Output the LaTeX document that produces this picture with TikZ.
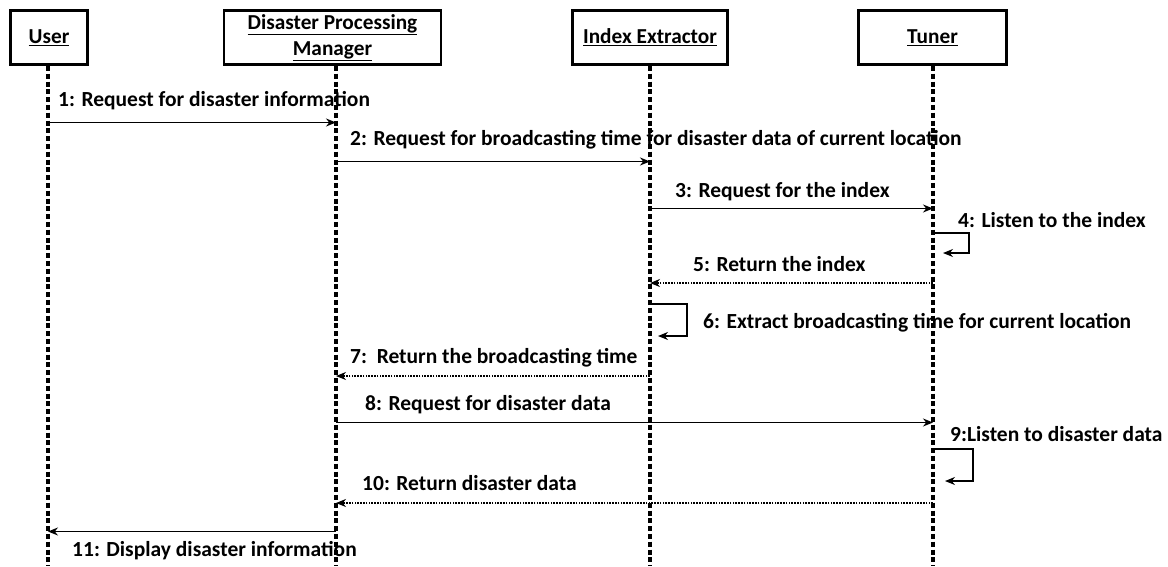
\documentclass[tikz,border=0pt]{standalone}
\usepackage{fontspec}
\setmainfont{Carlito}
\usetikzlibrary{arrows.meta}
\tikzset{
  obj/.style={draw=black, line width=2.8pt, minimum height=54pt, inner sep=0pt, align=center, font=\fontsize{21.3}{26}\selectfont\bfseries},
  life/.style={line width=3.2pt, dash pattern=on 5pt off 2.8pt},
  call/.style={line width=1.3pt, -{Stealth[length=10pt,width=8pt]}},
  ret/.style={line width=1.1pt, dash pattern=on 1.6pt off 1.2pt, -{Stealth[length=10pt,width=8pt]}},
  selfc/.style={line width=1.3pt, -{Stealth[length=10pt,width=8pt]}},
  lbl/.style={anchor=base west, inner sep=0pt, font=\fontsize{21.5}{25}\selectfont\bfseries}
}
\begin{document}
\begin{tikzpicture}[x=1pt,y=1pt]
\useasboundingbox (0,0) rectangle (1168,-566);
% objects
\node[obj, minimum width=77pt] (U) at (49,-37.5) {\underline{User}};
\node[obj, minimum width=217pt] (D) at (332.5,-37.5) {\underline{Disaster Processing}\\\underline{Manager}};
\node[obj, minimum width=155pt] (I) at (650,-37.5) {\underline{Index Extractor}};
\node[obj, minimum width=148pt] (T) at (932.5,-37.5) {\underline{Tuner}};
% lifeline bottoms
\coordinate (Ub) at (48,-566);
\coordinate (Db) at (336,-566);
\coordinate (Ib) at (650,-566);
\coordinate (Tb) at (933,-566);
\draw[life] (Ub |- U.south) -- (Ub);
\draw[life] (Db |- D.south) -- (Db);
\draw[life] (Ib |- I.south) -- (Ib);
\draw[life] (Tb |- T.south) -- (Tb);
% message rows
\coordinate (r1) at (0,-122.5);
\coordinate (r2) at (0,-161.5);
\coordinate (r3) at (0,-208.5);
\coordinate (r4a) at (0,-233);
\coordinate (r4b) at (0,-253);
\coordinate (r5) at (0,-283);
\coordinate (r6a) at (0,-304);
\coordinate (r6b) at (0,-336);
\coordinate (r7) at (0,-376);
\coordinate (r8) at (0,-422.5);
\coordinate (r9a) at (0,-449);
\coordinate (r9b) at (0,-481);
\coordinate (r10) at (0,-503);
\coordinate (r11) at (0,-531.5);
% messages
\draw[call] (Ub |- r1) -- (Db |- r1);
\node[lbl] (t1) at (58,-106) {1: Request for disaster information};
\draw[call] (Db |- r2) -- (Ib |- r2);
\node[lbl] (t2) at (350,-145) {2: Request for broadcasting time for disaster data of current location};
\draw[call] (Ib |- r3) -- (Tb |- r3);
\node[lbl] (t3) at (675,-197) {3: Request for the index};
\draw[selfc] (Tb |- r4a) -- ++(36,0) |- ([xshift=10pt]Tb |- r4b);
\node[lbl] (t4) at (958,-227) {4: Listen to the index};
\draw[ret] (Tb |- r5) -- (Ib |- r5);
\node[lbl] (t5) at (693,-271) {5: Return the index};
\draw[selfc] (Ib |- r6a) -- ++(37,0) |- ([xshift=8pt]Ib |- r6b);
\node[lbl] (t6) at (703,-328) {6: Extract broadcasting time for current location};
\draw[ret] (Ib |- r7) -- (Db |- r7);
\node[lbl] (t7) at (350,-363) {7:\ \ Return the broadcasting time};
\draw[call] (Db |- r8) -- (Tb |- r8);
\node[lbl] (t8) at (365,-410) {8: Request for disaster data};
\draw[selfc] (Tb |- r9a) -- ++(40,0) |- ([xshift=12pt]Tb |- r9b);
\node[lbl] (t9) at (950,-441) {9:Listen to disaster data};
\draw[ret] (Tb |- r10) -- (Db |- r10);
\node[lbl] (t10) at (362,-490) {10: Return disaster data};
\draw[call] (Db |- r11) -- (Ub |- r11);
\node[lbl] (t11) at (72,-556) {11: Display disaster information};
\end{tikzpicture}
\end{document}
